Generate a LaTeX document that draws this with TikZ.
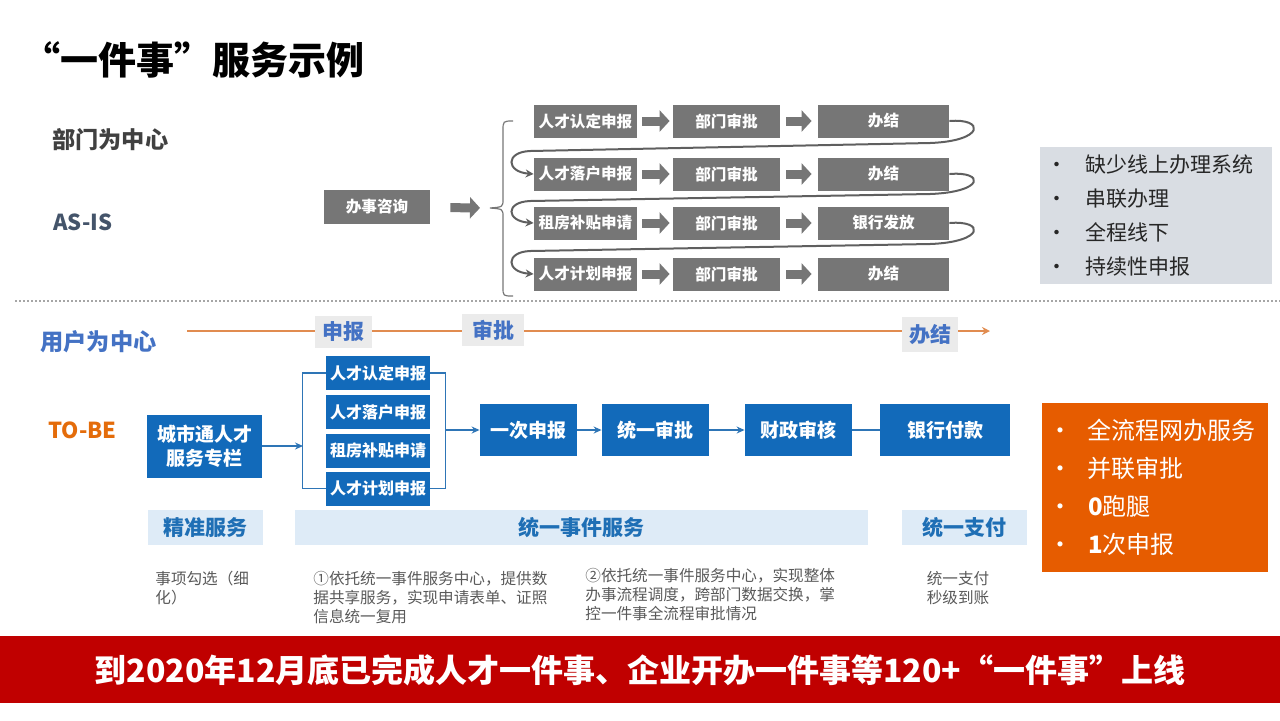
\documentclass[tikz,border=0pt]{standalone}
\usepackage{fontspec}
\usetikzlibrary{arrows.meta}
\newfontfamily\cjk{Noto Sans CJK SC}
\definecolor{asgray}{RGB}{118,118,118}
\definecolor{snakegray}{RGB}{95,95,95}
\definecolor{listgray}{RGB}{217,221,227}
\definecolor{tblue}{RGB}{18,106,186}
\definecolor{lineblue}{RGB}{46,117,182}
\definecolor{bandblue}{RGB}{222,235,247}
\definecolor{bandtext}{RGB}{31,111,181}
\definecolor{headblue}{RGB}{68,114,196}
\definecolor{stagegray}{RGB}{235,235,235}
\definecolor{tobeorange}{RGB}{230,92,0}
\definecolor{tobetext}{RGB}{228,108,10}
\definecolor{flowline}{RGB}{225,140,80}
\definecolor{notegray}{RGB}{89,89,89}
\definecolor{asistext}{RGB}{68,84,106}
\definecolor{bannerred}{RGB}{192,0,0}

\begin{document}
\begin{tikzpicture}[x=0.5pt,y=-0.5pt,
	asbox/.style={fill=asgray, text=white, inner sep=0pt, minimum height=16.5pt, font=\cjk\bfseries\fontsize{7.8}{9}\selectfont},
	tobox/.style={fill=tblue, text=white, inner sep=0pt, minimum width=52pt, minimum height=17pt, font=\cjk\bfseries\fontsize{8}{9}\selectfont},
	bigbox/.style={fill=tblue, text=white, inner sep=0pt, minimum height=26pt, font=\cjk\bfseries\fontsize{9.5}{12}\selectfont},
	band/.style={fill=bandblue, text=bandtext, inner sep=0pt, minimum height=17.5pt, font=\cjk\bfseries\fontsize{10.5}{12}\selectfont},
	stage/.style={fill=stagegray, text=headblue, inner sep=0pt, minimum height=16pt, font=\cjk\bfseries\fontsize{10.5}{12}\selectfont},
	note/.style={text=notegray, inner sep=0pt, align=left, font=\cjk\fontsize{7.8}{9.5}\selectfont},
	head/.style={anchor=west, inner sep=0pt},
	blockarr/.style={draw=asgray, line width=4.5pt, -{Triangle[width=10.5pt,length=5pt]}},
	snake/.style={draw=snakegray, line width=1pt, -{Stealth[length=4pt,width=4pt]}},
	bluearr/.style={draw=lineblue, line width=0.8pt, -{Stealth[length=4pt,width=3.5pt]}},
	blueln/.style={draw=lineblue, line width=0.8pt}]
	\useasboundingbox (0,0) rectangle (1280,720);

	% headings
	\node[head, font=\cjk\bfseries\fontsize{19}{22}\selectfont] (title) at (22,60) {“一件事”服务示例};
	\node[head, text=black!75, font=\cjk\bfseries\fontsize{11.6}{14}\selectfont] (dept) at (52,140) {部门为中心};
	\node[head, text=asistext, font=\cjk\bfseries\fontsize{11}{14}\selectfont] (asis) at (53,222) {AS-IS};
	\node[head, text=headblue, font=\cjk\bfseries\fontsize{11.6}{14}\selectfont] (user) at (40,342) {用户为中心};
	\node[head, text=tobetext, font=\cjk\bfseries\fontsize{11}{14}\selectfont] (tobe) at (48,430) {TO-BE};

	% AS-IS
	\node[asbox, minimum width=53pt, minimum height=17pt] (consult) at (377,207) {办事咨询};
	\coordinate (brtip) at (490,208);
	\draw[blockarr, shorten <=10pt, shorten >=5pt] (consult) -- (brtip);
	\draw[asgray, line width=0.6pt] (513,121) .. controls (503,121) .. (503,131) -- (503,199) .. controls (503,207) .. (brtip) .. controls (503,209) .. (503,217) -- (503,287) .. controls (503,296) .. (513,296);

	\node[asbox, minimum width=51.5pt] (r1c1) at (585.5,121) {人才认定申报};
	\node[asbox, minimum width=53.5pt] (r1c2) at (726.5,121) {部门审批};
	\node[asbox, minimum width=65.5pt] (r1c3) at (883.5,121) {办结};
	\node[asbox, minimum width=51.5pt] (r2c1) at (585.5,174) {人才落户申报};
	\node[asbox, minimum width=53.5pt] (r2c2) at (726.5,174) {部门审批};
	\node[asbox, minimum width=65.5pt] (r2c3) at (883.5,174) {办结};
	\node[asbox, minimum width=51.5pt] (r3c1) at (585.5,223) {租房补贴申请};
	\node[asbox, minimum width=53.5pt] (r3c2) at (726.5,223) {部门审批};
	\node[asbox, minimum width=65.5pt] (r3c3) at (883.5,223) {银行发放};
	\node[asbox, minimum width=51.5pt] (r4c1) at (585.5,274) {人才计划申报};
	\node[asbox, minimum width=53.5pt] (r4c2) at (726.5,274) {部门审批};
	\node[asbox, minimum width=65.5pt] (r4c3) at (883.5,274) {办结};

	\foreach \r in {1,...,4}{
		\draw[blockarr, shorten <=2.5pt, shorten >=1.5pt] (r\r c1) -- (r\r c2);
		\draw[blockarr, shorten <=3pt, shorten >=3pt] (r\r c2) -- (r\r c3);
	}
	\draw[snake] (r1c3.east) .. controls (985,118) and (985,141) .. (930,143) -- (530,151) .. controls (505,152) and (506,172) .. (r2c1.west);
	\draw[snake] (r2c3.east) .. controls (985,171) and (985,192) .. (930,194) -- (530,201) .. controls (505,202) and (506,221) .. (r3c1.west);
	\draw[snake] (r3c3.east) .. controls (985,220) and (985,242) .. (930,244) -- (530,251) .. controls (505,252) and (506,272) .. (r4c1.west);

	\node[fill=listgray, minimum width=116pt, minimum height=68.5pt, inner xsep=5pt, inner ysep=0pt, text width=106pt, align=left, text=black!85, font=\cjk\fontsize{10.5}{17}\selectfont] (aslist) at (1156,215.5) {\makebox[17.5pt][l]{\hspace{-2pt}•}缺少线上办理系统\\ \makebox[17.5pt][l]{\hspace{-2pt}•}串联办理\\ \makebox[17.5pt][l]{\hspace{-2pt}•}全程线下\\ \makebox[17.5pt][l]{\hspace{-2pt}•}持续性申报};

	\draw[black!35, line width=1pt, dash pattern=on 1pt off 1pt] (15,301) -- (1280,301);

	% TO-BE
	\coordinate (fstart) at (187,331);
	\coordinate (fend) at (990,331);
	\draw[flowline, line width=0.8pt, -{Stealth[length=4pt,width=4pt]}] (fstart) -- (fend);
	\node[stage, minimum width=28.5pt] (s1) at (343.5,332) {申报};
	\node[stage, minimum width=31pt] (s2) at (493,330) {审批};
	\node[stage, minimum width=28pt, minimum height=17.5pt] (s3) at (930,334.5) {办结};

	\node[bigbox, minimum width=57.5pt, minimum height=31.5pt, align=center] (hub) at (204.5,446) {城市通人才\\服务专栏};
	\node[tobox] (t1) at (378,373) {人才认定申报};
	\node[tobox] (t2) at (378,412) {人才落户申报};
	\node[tobox] (t3) at (378,450.5) {租房补贴申请};
	\node[tobox] (t4) at (378,488.5) {人才计划申报};
	\coordinate (bl) at (303,446);
	\coordinate (br) at (445,430);
	\draw[bluearr] (hub.east) -- (bl);
	\draw[blueln] (t1.west) -- ++(-23,0) |- (t4.west);
	\draw[blueln] (t1.east) -- ++(15,0) |- (t4.east);

	\node[bigbox, minimum width=48.5pt] (once) at (528.5,430) {一次申报};
	\node[bigbox, minimum width=53.5pt] (unify) at (655.5,430) {统一审批};
	\node[bigbox, minimum width=53.5pt] (fin) at (798.5,430) {财政审核};
	\node[bigbox, minimum width=65pt] (bank) at (945,430) {银行付款};
	\draw[bluearr] (br) -- (once);
	\draw[bluearr] (once) -- (unify);
	\draw[bluearr] (unify) -- (fin);
	\draw[blueln] (fin) -- (bank);

	\node[fill=tobeorange, text=white, minimum height=84.5pt, inner xsep=7pt, inner ysep=0pt, text width=99pt, align=left, font=\cjk\fontsize{12}{19}\selectfont] (tolist) at (1155,487.5) {\makebox[16pt][l]{\hspace{-4pt}•}全流程网办服务\\ \makebox[16pt][l]{\hspace{-4pt}•}并联审批\\ \makebox[16pt][l]{\hspace{-4pt}•}\textbf{0}跑腿\\ \makebox[16pt][l]{\hspace{-4pt}•}\textbf{1}次申报};

	\node[band, minimum width=57.5pt] (b1) at (205.5,527.5) {精准服务};
	\node[band, minimum width=286.5pt] (b2) at (581.5,527.5) {统一事件服务};
	\node[band, minimum width=62.5pt] (b3) at (964.5,527.5) {统一支付};

	\node[note, anchor=north west] (n1) at (155,571) {事项勾选（细\\化）};
	\node[note, anchor=north west] (n2) at (313,571) {①依托统一事件服务中心，提供数\\据共享服务，实现申请表单、证照\\信息统一复用};
	\node[note, anchor=north west] (n3) at (585,568) {②依托统一事件服务中心，实现整体\\办事流程调度，跨部门数据交换，掌\\控一件事全流程审批情况};
	\node[note, anchor=north, align=center] (n4) at (958,571) {统一支付\\秒级到账};

	% banner
	\fill[bannerred] (0,636) rectangle (1280,703);
	\node[text=white, font=\cjk\bfseries\fontsize{16}{18}\selectfont] (banner) at (640,670) {到2020年12月底已完成人才一件事、企业开办一件事等120+“一件事”上线};
\end{tikzpicture}
\end{document}
